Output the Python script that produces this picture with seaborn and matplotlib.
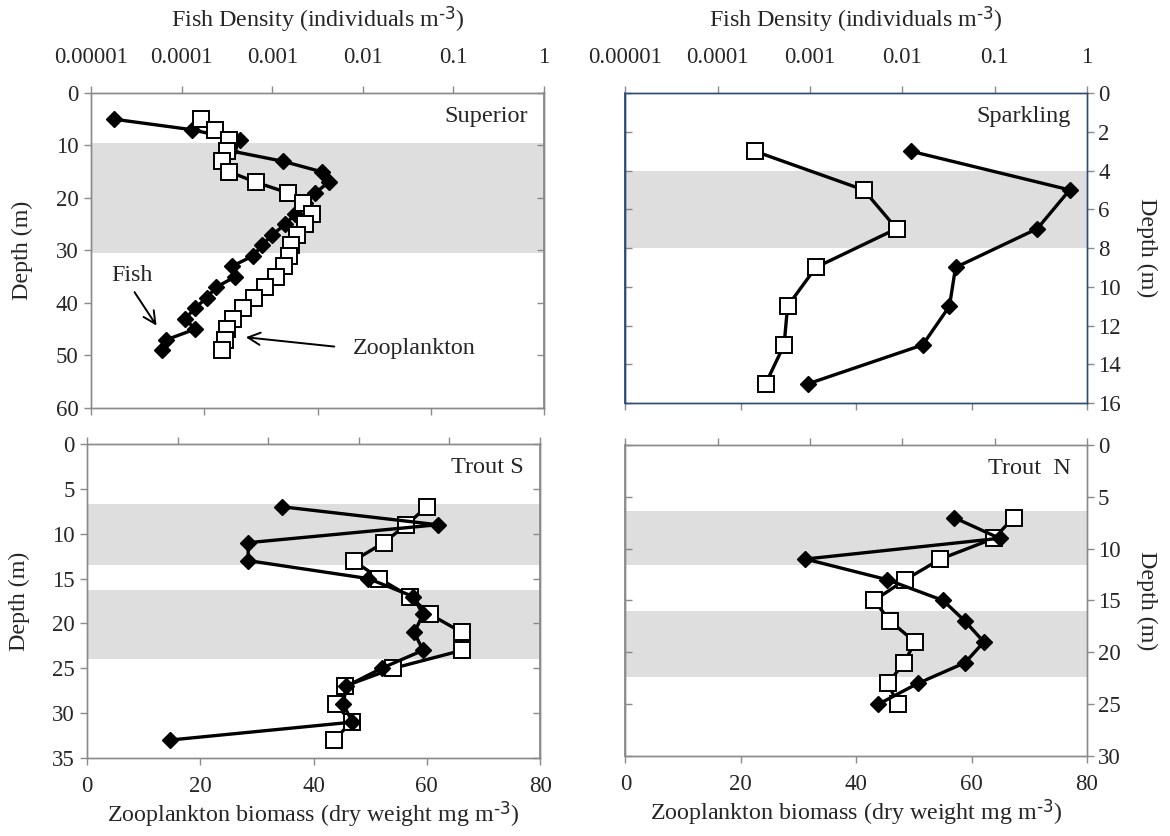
import matplotlib
matplotlib.use("Agg")
import matplotlib.pyplot as plt
import matplotlib.ticker as mticker
import seaborn as sns

# ---- depth profiles: fish density (individuals m-3) and zooplankton biomass (mg m-3) ----
sup_depth = [5, 7, 9, 11, 13, 15, 17, 19, 21, 23, 25, 27, 29, 31, 33, 35, 37, 39, 41, 43, 45, 47, 49]
sup_fish = [1.8e-5, 1.3e-4, 4.4e-4, 3.4e-4, 1.3e-3, 3.5e-3, 4.2e-3, 3.0e-3, 2.3e-3, 1.8e-3, 1.4e-3,
            1.0e-3, 7.7e-4, 6.2e-4, 3.6e-4, 3.9e-4, 2.4e-4, 1.9e-4, 1.4e-4, 1.1e-4, 1.4e-4, 6.8e-5, 6.0e-5]
sup_zoo = [19.5, 21.9, 24.4, 24.0, 23.1, 24.4, 29.1, 34.7, 37.5, 39.1, 37.8, 36.3, 35.3, 35.0, 34.0,
           32.6, 30.7, 28.7, 26.9, 25.1, 24.0, 23.7, 23.1]

spa_depth = [3, 5, 7, 9, 11, 13, 15]
spa_fish = [0.0123, 0.65, 0.29, 0.0377, 0.0324, 0.0166, 9.6e-4]
spa_zoo = [22.4, 41.3, 47.0, 33.0, 28.1, 27.5, 24.3]

trs_depth = [7, 9, 11, 13, 15, 17, 19, 21, 23, 25, 27, 29, 31, 33]
trs_fish = [1.43e-3, 0.074, 6.0e-4, 6.0e-4, 0.0127, 0.0398, 0.051, 0.0409, 0.051, 0.0178,
            7.3e-3, 6.7e-3, 8.5e-3, 8.2e-5]
trs_zoo = [60.0, 56.4, 52.4, 47.1, 51.6, 57.0, 60.6, 66.2, 66.2, 54.1, 45.5, 43.9, 46.7, 43.6]

trn_depth = [7, 9, 11, 13, 15, 17, 19, 21, 23, 25]
trn_fish = [0.0363, 0.113, 8.9e-4, 6.9e-3, 0.0277, 0.0478, 0.0764, 0.0478, 0.0147, 5.5e-3]
trn_zoo = [67.3, 63.9, 54.6, 48.5, 43.1, 45.9, 50.2, 48.3, 45.5, 47.2]

# shaded depth layers (m)
sup_bands = [(9.5, 30.4)]
spa_bands = [(4.0, 8.0)]
trs_bands = [(6.7, 13.5), (16.3, 24.0)]
trn_bands = [(6.4, 11.6), (16.0, 22.4)]

lake_names = ["Superior", "Sparkling", "Trout S", "Trout  N"]
depth_max = [60, 16, 35, 30]
depth_step = [10, 2, 5, 5]

fish_ticks = [1e-5, 1e-4, 1e-3, 1e-2, 1e-1, 1]
fish_tick_labels = ["0.00001", "0.0001", "0.001", "0.01", "0.1", "1"]
zoo_ticks = [0, 20, 40, 60, 80]

fish_label = r"Fish Density (individuals m$^{\text{-3}}$)"
zoo_label = r"Zooplankton biomass (dry weight mg m$^{\text{-3}}$)"
depth_label = "Depth (m)"

# ---- styling ----
sns.set_theme(style="white")
plt.rcParams["font.family"] = ["Liberation Serif", "DejaVu Serif"]
plt.rcParams["mathtext.default"] = "regular"

TICK_FS = 16.5
LABEL_FS = 17.3
NAME_FS = 17.5
GRAY = "#8a8a8a"
NAVY = "#2f4b73"
SHADE = "#dedede"

fig = plt.figure(figsize=(11.70, 8.36), dpi=100)

# axes rectangles [left, bottom, width, height] in figure fractions
rects = [
    [0.0778, 0.5120, 0.3872, 0.3768],
    [0.5346, 0.5179, 0.3944, 0.3708],
    [0.0744, 0.0933, 0.3872, 0.3756],
    [0.5346, 0.0957, 0.3944, 0.3720],
]

panels = [
    (sup_depth, sup_fish, sup_zoo, sup_bands),
    (spa_depth, spa_fish, spa_zoo, spa_bands),
    (trs_depth, trs_fish, trs_zoo, trs_bands),
    (trn_depth, trn_fish, trn_zoo, trn_bands),
]

line_kw = dict(color="black", linewidth=2.4, sort=False, estimator=None, legend=False)
axes_list = []

for i, (depth, fish, zoo, bands) in enumerate(panels):
    top_row = i < 2
    right_col = i % 2 == 1
    spine_col = NAVY if i == 1 else GRAY

    ax = fig.add_axes(rects[i])
    axf = ax.twiny()
    # Superior: zooplankton squares sit above the fish line
    if i == 0:
        ax.set_zorder(axf.get_zorder() + 1)
        ax.patch.set_visible(False)
        axf.patch.set_visible(True)
        axf.patch.set_facecolor("white")
        shade_ax = axf
    else:
        shade_ax = ax

    ax.set_xlim(0, 80)
    ax.set_ylim(depth_max[i], 0)
    axf.set_xscale("log")
    axf.set_xlim(1e-5, 1)
    axf.set_ylim(depth_max[i], 0)

    for lo, hi in bands:
        shade_ax.axhspan(lo, hi, color=SHADE, lw=0, zorder=0)

    sns.lineplot(x=zoo, y=depth, ax=ax, marker="s", markersize=11,
                 markerfacecolor="white", markeredgecolor="black",
                 markeredgewidth=1.4, zorder=3, **line_kw)
    sns.lineplot(x=fish, y=depth, ax=axf, marker="D", markersize=8.5,
                 markerfacecolor="black", markeredgecolor="black",
                 markeredgewidth=1.0, zorder=3, **line_kw)

    # bottom (zooplankton) axis
    ax.xaxis.set_major_locator(mticker.FixedLocator(zoo_ticks))
    ax.tick_params(axis="x", which="both", bottom=True, top=False, direction="out",
                   length=5, width=1, color=GRAY, labelsize=TICK_FS, pad=8,
                   labelbottom=not top_row)
    ax.set_xlabel(zoo_label if not top_row else "", fontsize=LABEL_FS, labelpad=2)

    # top (fish) axis
    axf.xaxis.set_major_locator(mticker.FixedLocator(fish_ticks))
    axf.xaxis.set_minor_locator(mticker.NullLocator())
    axf.xaxis.set_major_formatter(mticker.FixedFormatter(fish_tick_labels))
    axf.tick_params(axis="x", which="both", top=True, bottom=False, direction="out",
                    length=5, width=1, color=GRAY, labelsize=TICK_FS, pad=13,
                    labeltop=top_row)
    if top_row:
        axf.set_xlabel(fish_label, fontsize=LABEL_FS, labelpad=14)
    else:
        axf.set_xlabel("")

    # depth axis: labelled side ticks outward, opposite side inward
    yt = list(range(0, depth_max[i] + 1, depth_step[i]))
    ax.yaxis.set_major_locator(mticker.FixedLocator(yt))
    if right_col:
        ax.yaxis.tick_right()
        ax.yaxis.set_label_position("right")
        ax.set_ylabel(depth_label, fontsize=LABEL_FS, rotation=270, labelpad=26)
        ax.tick_params(axis="y", right=True, left=False, direction="out", length=5,
                       width=1, color=GRAY, labelsize=TICK_FS, pad=3)
        sec = ax.secondary_yaxis("left")
    else:
        ax.set_ylabel(depth_label, fontsize=LABEL_FS, labelpad=16)
        ax.tick_params(axis="y", left=True, right=False, direction="out", length=5,
                       width=1, color=GRAY, labelsize=TICK_FS, pad=4)
        sec = ax.secondary_yaxis("right")
    sec.yaxis.set_major_locator(mticker.FixedLocator(yt))
    sec.tick_params(axis="y", direction="in", length=5, width=1, color=GRAY,
                    labelleft=False, labelright=False)
    for s in sec.spines.values():
        s.set_color(spine_col)

    for a in (ax, axf):
        for s in a.spines.values():
            s.set_visible(True)
            s.set_color(spine_col)
            s.set_linewidth(1.0)
    axf.yaxis.set_visible(False)

    ax.text(0.965, 0.925, lake_names[i], transform=ax.transAxes, ha="right",
            va="center", fontsize=NAME_FS, zorder=6)
    axes_list.append(ax)

# labelled arrows in the Superior panel
ax0 = axes_list[0]
arrow_kw = dict(arrowstyle="->", color="black", lw=1.4, mutation_scale=22)
ax0.annotate("", xy=(0.148, 0.254), xytext=(0.0927, 0.375), xycoords="axes fraction",
             textcoords="axes fraction", arrowprops=arrow_kw)
ax0.text(0.0905, 0.422, "Fish", transform=ax0.transAxes, ha="center", va="center",
         fontsize=LABEL_FS)
ax0.annotate("", xy=(0.3355, 0.2254), xytext=(0.543, 0.194), xycoords="axes fraction",
             textcoords="axes fraction", arrowprops=arrow_kw)
ax0.text(0.578, 0.19, "Zooplankton", transform=ax0.transAxes, ha="left", va="center",
         fontsize=LABEL_FS)

fig.savefig("out.png", dpi=100)
